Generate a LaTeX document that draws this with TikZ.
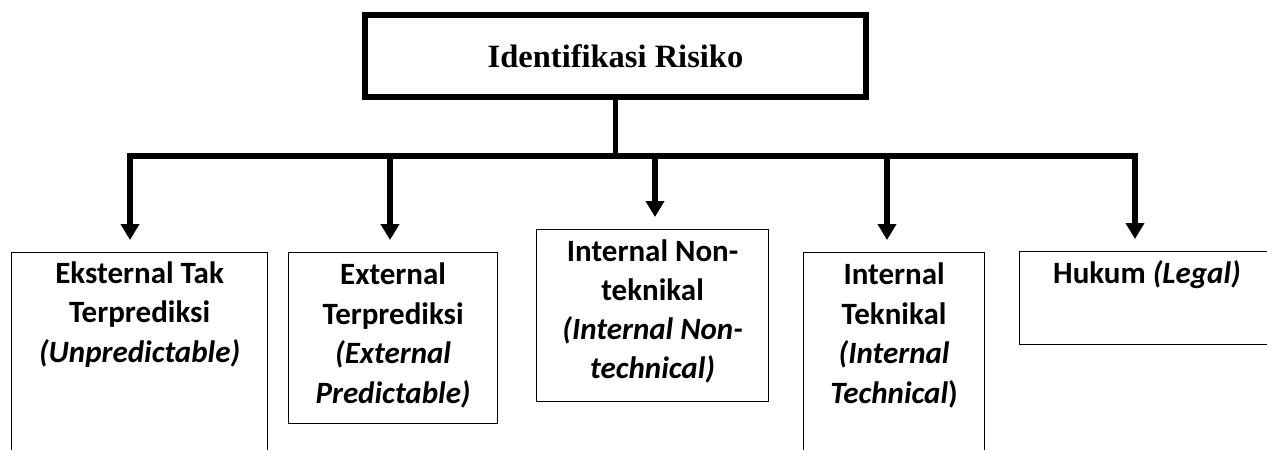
\documentclass[tikz,border=0pt]{standalone}
\usepackage{fontspec}
\setmainfont{Liberation Serif}
\newfontfamily\calibri{Carlito}
\usetikzlibrary{arrows.meta}

\begin{document}
\begin{tikzpicture}[x=1pt,y=-1pt,
   kotak/.style={draw,line width=1.2pt,inner sep=0pt,anchor=north west},
   isi/.style={font=\calibri\bfseries\fontsize{31}{39.5}\selectfont,align=center,anchor=base,inner sep=0pt},
   garis/.style={line width=5.5pt,line cap=rect},
   panah/.style={garis,-{Triangle[width=18pt,length=16pt]},shorten >=12pt}]
   \useasboundingbox (0,0) rectangle (1267,450);
   \clip (0,0) rectangle (1267,450);
   \node[draw,line width=6pt,minimum width=501pt,minimum height=82pt,inner sep=0pt,
      font=\bfseries\fontsize{32.5}{39}\selectfont] (judul) at (615.5,56) {Identifikasi Risiko};
   % kotak kategori
   \node[kotak,minimum width=256pt,minimum height=230pt] (ekst) at (11,252) {};
   \node[kotak,minimum width=209pt,minimum height=171pt] (expred) at (288,252) {};
   \node[kotak,minimum width=232pt,minimum height=172pt] (intnon) at (536,229) {};
   \node[kotak,minimum width=181pt,minimum height=230pt] (inttek) at (803,252) {};
   \node[kotak,minimum width=270pt,minimum height=93pt] (hukum) at (1019,251) {};
   % anchor base = baris terakhir
   \node[isi] (tekst) at (ekst.north |- 0,362) {Eksternal Tak\\Terprediksi\\\textit{(Unpredictable)}};
   \node[isi] (texpred) at (expred.north |- 0,403) {External\\Terprediksi\\\textit{(External}\\\textit{Predictable)}};
   \node[isi,font=\calibri\bfseries\fontsize{31}{38.7}\selectfont] (tintnon) at (intnon.north |- 0,378) {Internal Non-\\teknikal\\\textit{(Internal Non-}\\\textit{technical)}};
   \node[isi] (tinttek) at (inttek.north |- 0,403) {Internal\\Teknikal\\\textit{(Internal}\\\textit{Technical})};
   \node[isi] (thukum) at (1147,283) {Hukum \textit{(Legal)}};
   % cabang
   \coordinate (c1) at (130,156);
   \coordinate (c2) at (390,156);
   \coordinate (c3) at (655,156);
   \coordinate (c4) at (887,156);
   \coordinate (c5) at (1135,156);
   \draw[garis] (judul.south) -- (judul.south |- c1);
   \draw[garis] (c1) -- (c5);
   \draw[panah] (c1) -- (c1 |- ekst.north);
   \draw[panah] (c2) -- (c2 |- expred.north);
   \draw[panah] (c3) -- (c3 |- intnon.north);
   \draw[panah] (c4) -- (c4 |- inttek.north);
   \draw[panah] (c5) -- (c5 |- hukum.north);
\end{tikzpicture}
\end{document}
